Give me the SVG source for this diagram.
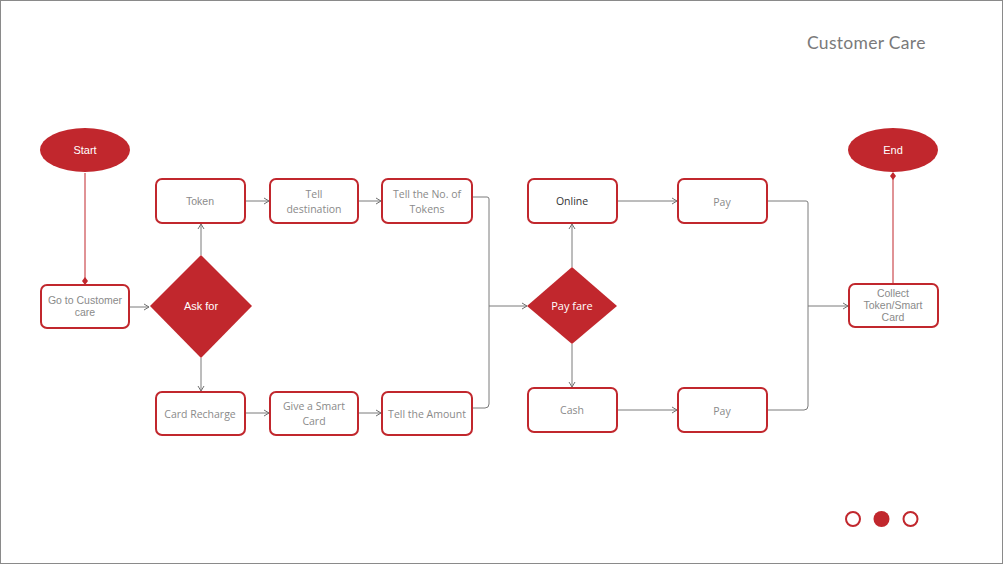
<svg xmlns="http://www.w3.org/2000/svg" width="1003" height="564" viewBox="0 0 1003 564">
<defs>
<marker id="arr" markerWidth="8" markerHeight="8" refX="6" refY="4" orient="auto" markerUnits="userSpaceOnUse">
<path d="M1,1 L6,4 L1,7" fill="none" stroke="#707070" stroke-width="1"/>
</marker>
<marker id="dia" markerWidth="8" markerHeight="8" refX="4" refY="4" orient="auto" markerUnits="userSpaceOnUse">
<path d="M0,4 L4,1 L8,4 L4,7 Z" fill="#c1272d"/>
</marker>
<style>
.box{fill:#fff;stroke:#c1272d;stroke-width:2}
.red{fill:#c1272d}
.t{font-family:"Open Sans","Liberation Sans",sans-serif;font-size:10.5px;fill:#8a8a8a;text-anchor:middle}
.a{font-family:"Liberation Sans",Arial,sans-serif;font-size:10.5px;fill:#8a8a8a;text-anchor:middle}
.w{font-family:"Liberation Sans",Arial,sans-serif;font-size:11px;fill:#fff;text-anchor:middle}
.wo{font-family:"Open Sans","Liberation Sans",sans-serif;font-size:11px;fill:#fff;text-anchor:middle}
.c{fill:none;stroke:#7a7a7a;stroke-width:1}
.rc{fill:none;stroke:#c1272d;stroke-width:1}
</style>
</defs>
<rect x="0.5" y="0.5" width="1002" height="563" fill="#fff" stroke="#8a8a8a" stroke-width="1"/>
<text x="807" y="49" font-family="Lato,'Open Sans',sans-serif" font-size="17.5" letter-spacing="0.3" fill="#7a7a7a">Customer Care</text>

<g id="connectors">
<path class="rc" d="M85,173 V281" marker-end="url(#dia)"/>
<path class="c" d="M129,307 H149" marker-end="url(#arr)"/>
<path class="c" d="M201,255 V224" marker-end="url(#arr)"/>
<path class="c" d="M201,358 V391" marker-end="url(#arr)"/>
<path class="c" d="M245,201 H269" marker-end="url(#arr)"/>
<path class="c" d="M358,201 H381" marker-end="url(#arr)"/>
<path class="c" d="M245,413 H269" marker-end="url(#arr)"/>
<path class="c" d="M358,413 H381" marker-end="url(#arr)"/>
<path class="c" d="M472,197 H487 Q489,197 489,199 V404 Q489,408 485,408 H472"/>
<path class="c" d="M489,306 H527" marker-end="url(#arr)"/>
<path class="c" d="M572,267 V224" marker-end="url(#arr)"/>
<path class="c" d="M572,344 V387" marker-end="url(#arr)"/>
<path class="c" d="M617,201 H677" marker-end="url(#arr)"/>
<path class="c" d="M617,410 H677" marker-end="url(#arr)"/>
<path class="c" d="M767,201 H806 Q808,201 808,203 V406 Q808,410 804,410 H767"/>
<path class="c" d="M808,306 H848" marker-end="url(#arr)"/>
<path class="rc" d="M893,284 V176" marker-end="url(#dia)"/>
</g>

<g id="start"><ellipse class="red" cx="85" cy="150" rx="45" ry="22"/><text class="w" x="85" y="154">Start</text></g>
<g id="goto"><rect class="box" x="41" y="285" width="88" height="43" rx="6"/><text class="a" x="85" y="304">Go to Customer</text><text class="a" x="85" y="316">care</text></g>
<g id="askfor"><path class="red" d="M201,255 L252,306 L201,358 L150,306 Z"/><text class="w" x="201" y="310">Ask for</text></g>
<g id="token"><rect class="box" x="156" y="179" width="89" height="44" rx="6"/><text class="a" x="200" y="205">Token</text></g>
<g id="telldest"><rect class="box" x="270" y="179" width="88" height="44" rx="6"/><text class="t" x="314" y="198">Tell</text><text class="t" x="314" y="213">destination</text></g>
<g id="tellno"><rect class="box" x="382" y="179" width="90" height="44" rx="6"/><text class="t" x="427" y="198">Tell the No. of</text><text class="t" x="427" y="213">Tokens</text></g>
<g id="recharge"><rect class="box" x="156" y="392" width="89" height="43" rx="6"/><text class="t" x="200" y="418">Card Recharge</text></g>
<g id="smartcard"><rect class="box" x="270" y="392" width="88" height="43" rx="6"/><text class="t" x="314" y="410">Give a  Smart</text><text class="t" x="314" y="425">Card</text></g>
<g id="amount"><rect class="box" x="382" y="392" width="90" height="43" rx="6"/><text class="t" x="427" y="418">Tell the Amount</text></g>
<g id="payfare"><path class="red" d="M572,267 L617,306 L572,344 L527,306 Z"/><text class="wo" x="572" y="310">Pay fare</text></g>
<g id="online"><rect class="box" x="528" y="179" width="89" height="44" rx="6"/><text class="t" x="572" y="205" style="fill:#333">Online</text></g>
<g id="pay1"><rect class="box" x="678" y="179" width="89" height="44" rx="6"/><text class="t" x="722" y="206">Pay</text></g>
<g id="cash"><rect class="box" x="528" y="388" width="89" height="44" rx="6"/><text class="t" x="572" y="414">Cash</text></g>
<g id="pay2"><rect class="box" x="678" y="388" width="89" height="44" rx="6"/><text class="t" x="722" y="415">Pay</text></g>
<g id="collect"><rect class="box" x="849" y="284" width="89" height="43" rx="6"/><text class="a" x="893" y="297">Collect</text><text class="a" x="893" y="309">Token/Smart</text><text class="a" x="893" y="321">Card</text></g>
<g id="end"><ellipse class="red" cx="893" cy="150" rx="45" ry="22"/><text class="w" x="893" y="154">End</text></g>

<g id="dots">
<circle cx="853" cy="519" r="7" fill="none" stroke="#c1272d" stroke-width="2"/>
<circle cx="881.5" cy="519" r="8" fill="#c1272d"/>
<circle cx="910.5" cy="519" r="7" fill="none" stroke="#c1272d" stroke-width="2"/>
</g>
</svg>
